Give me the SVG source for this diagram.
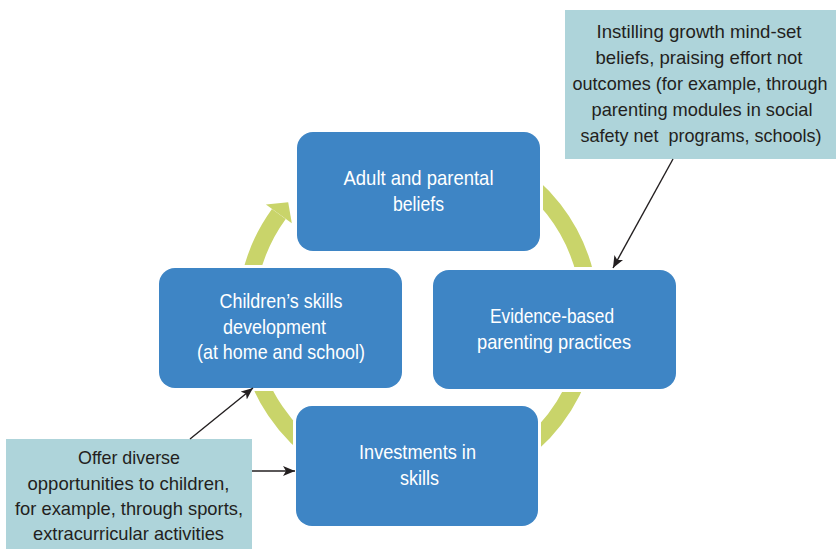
<svg xmlns="http://www.w3.org/2000/svg" width="836" height="549" viewBox="0 0 836 549">
<style>
.box{fill:#3e85c5;stroke:#ffffff;stroke-width:6;paint-order:stroke}
.call{fill:#aed4da}
.bt{font-family:"Liberation Sans",Arial,sans-serif;font-size:21px;fill:#ffffff;text-anchor:middle}
.ct{font-family:"Liberation Sans",Arial,sans-serif;font-size:19px;fill:#231f20;text-anchor:middle}
.ring{fill:none;stroke:#c9d46a;stroke-width:17}
.con{stroke:#231f20;stroke-width:1.4;fill:none;marker-end:url(#ah)}
</style>
<defs>
<marker id="ah" viewBox="0 0 12 10" refX="12" refY="5" markerWidth="12" markerHeight="10" markerUnits="userSpaceOnUse" orient="auto">
<path d="M0,0 L12,5 L0,10 L3,5 z" fill="#231f20"/>
</marker>
</defs>
<rect width="836" height="549" fill="#ffffff"/>
<g id="cycle">
<path class="ring" d="M504,166 A172,172 0 1 1 278.85,213.9"/>
<polygon points="265.9,204.5 291.8,223.3 288.2,202.2" fill="#c9d46a"/>
</g>
<g id="n-adult">
<rect class="box" x="297" y="132" width="243" height="119" rx="16"/>
<text class="bt" x="418.5" y="185" textLength="150" lengthAdjust="spacingAndGlyphs">Adult and parental</text>
<text class="bt" x="418.5" y="211" textLength="51" lengthAdjust="spacingAndGlyphs">beliefs</text>
</g>
<g id="n-evidence">
<rect class="box" x="433" y="270" width="243" height="119" rx="16"/>
<text class="bt" x="552" y="323" textLength="124" lengthAdjust="spacingAndGlyphs">Evidence-based</text>
<text class="bt" x="554" y="349" textLength="154" lengthAdjust="spacingAndGlyphs">parenting practices</text>
</g>
<g id="n-children">
<rect class="box" x="159" y="268" width="243" height="120" rx="16"/>
<text class="bt" x="281" y="308" textLength="123" lengthAdjust="spacingAndGlyphs">Children’s skills</text>
<text class="bt" x="274.5" y="334" textLength="103" lengthAdjust="spacingAndGlyphs">development</text>
<text class="bt" x="281" y="359" textLength="168" lengthAdjust="spacingAndGlyphs">(at home and school)</text>
</g>
<g id="n-invest">
<rect class="box" x="296" y="406" width="242" height="120" rx="16"/>
<text class="bt" x="417.5" y="459" textLength="117" lengthAdjust="spacingAndGlyphs">Investments in</text>
<text class="bt" x="419.5" y="485" textLength="39" lengthAdjust="spacingAndGlyphs">skills</text>
</g>
<g id="c-growth">
<rect class="call" x="565" y="10" width="271" height="149"/>
<text class="ct" x="699" y="38" textLength="205" lengthAdjust="spacingAndGlyphs">Instilling growth mind-set</text>
<text class="ct" x="699" y="64" textLength="207" lengthAdjust="spacingAndGlyphs">beliefs, praising effort not</text>
<text class="ct" x="700" y="90" textLength="255" lengthAdjust="spacingAndGlyphs">outcomes (for example, through</text>
<text class="ct" x="702" y="116" textLength="221" lengthAdjust="spacingAndGlyphs">parenting modules in social</text>
<text class="ct" x="701" y="142" textLength="241" lengthAdjust="spacingAndGlyphs">safety net&#160; programs, schools)</text>
</g>
<g id="c-offer">
<rect class="call" x="6" y="439" width="246" height="110"/>
<text class="ct" x="129" y="464" textLength="102" lengthAdjust="spacingAndGlyphs">Offer diverse</text>
<text class="ct" x="128.5" y="490" textLength="202" lengthAdjust="spacingAndGlyphs">opportunities to children,</text>
<text class="ct" x="129" y="515" textLength="228" lengthAdjust="spacingAndGlyphs">for example, through sports,</text>
<text class="ct" x="128.5" y="540" textLength="191" lengthAdjust="spacingAndGlyphs">extracurricular activities</text>
</g>
<g id="connectors">
<line class="con" x1="673" y1="159" x2="613" y2="268"/>
<line class="con" x1="190" y1="439" x2="253" y2="388"/>
<line class="con" x1="252" y1="471" x2="295" y2="471"/>
</g>
</svg>
